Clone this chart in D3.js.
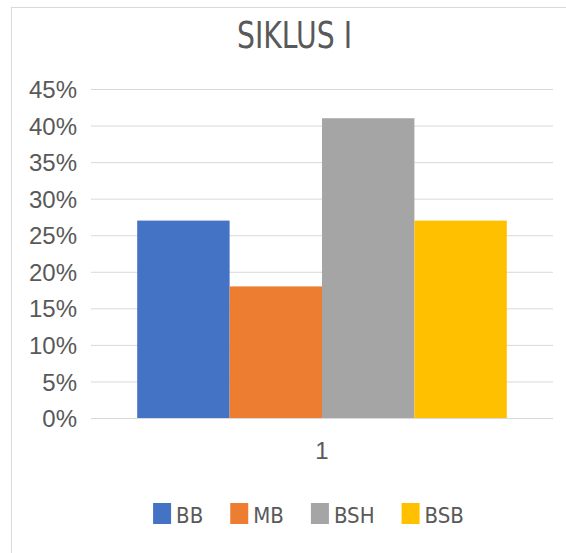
<!DOCTYPE html>
<html>
<head>
<meta charset="utf-8">
<script src="https://cdn.jsdelivr.net/npm/d3@7"></script>
<style>
  body { margin: 0; background: #fff; }
  svg { display: block; font-family: "Liberation Sans Narrow", "DejaVu Sans Condensed", "Arial Narrow", sans-serif; }
</style>
</head>
<body>
<div id="chart"></div>
<script>
// data
var categories = ["1"];
var seriesNames = ["BB", "MB", "BSH", "BSB"];
var seriesValues = [0.27, 0.18, 0.41, 0.27];
var seriesColors = ["#4472C4", "#ED7D31", "#A5A5A5", "#FFC000"];
var yTicks = [0, 0.05, 0.10, 0.15, 0.20, 0.25, 0.30, 0.35, 0.40, 0.45];

var W = 566, H = 553;
var margin = {top: 89, right: 13, bottom: 135, left: 91},
    width = W - margin.left - margin.right,
    height = H - margin.top - margin.bottom;

var textColor = "#595959";

var svg = d3.select("#chart").append("svg")
    .attr("width", W)
    .attr("height", H);

// chart area border (only top + left are visible in the crop)
svg.append("rect")
    .attr("x", 11.5).attr("y", 7.5)
    .attr("width", W + 10).attr("height", H + 10)
    .attr("fill", "none")
    .attr("stroke", "#D9D9D9");

svg.append("text")
    .attr("x", 294.5).attr("y", 48)
    .attr("text-anchor", "middle")
    .attr("fill", textColor)
    .style("font-size", "37px")
    .attr("textLength", 115)
    .attr("lengthAdjust", "spacingAndGlyphs")
    .text("SIKLUS I");

var g = svg.append("g")
    .attr("transform", "translate(" + margin.left + "," + margin.top + ")");

var x0 = d3.scaleBand()
    .domain(categories)
    .range([0, width]);

var x1 = d3.scaleBand()
    .domain(seriesNames)
    .range([0, x0.bandwidth()])
    .paddingOuter(0.5)
    .paddingInner(0);

var y = d3.scaleLinear()
    .domain([0, 0.45])
    .range([height, 0]);

var yAxis = d3.axisLeft(y)
    .tickValues(yTicks)
    .tickSize(-width)
    .tickPadding(14)
    .tickFormat(d3.format(".0%"));

var yg = g.append("g")
    .attr("class", "y axis")
    .call(yAxis);
yg.select(".domain").remove();
yg.selectAll("line").attr("stroke", "#D9D9D9");
yg.selectAll("text")
    .attr("fill", textColor)
    .attr("dy", "0.36em")
    .style("font-size", "24px");

var groups = g.selectAll("g.cat")
    .data(categories)
    .enter().append("g")
    .attr("class", "cat")
    .attr("transform", function(d) { return "translate(" + x0(d) + ",0)"; });

groups.selectAll("rect")
    .data(seriesNames.map(function(n, i) { return {name: n, value: seriesValues[i], color: seriesColors[i]}; }))
    .enter().append("rect")
    .attr("x", function(d) { return x1(d.name); })
    .attr("y", function(d) { return y(d.value); })
    .attr("width", x1.bandwidth())
    .attr("height", function(d) { return height - y(d.value); })
    .attr("fill", function(d) { return d.color; });

var xAxis = d3.axisBottom(x0)
    .tickSize(0)
    .tickPadding(24);

var xg = g.append("g")
    .attr("class", "x axis")
    .attr("transform", "translate(0," + height + ")")
    .call(xAxis);
xg.select(".domain").remove();
xg.selectAll("text")
    .attr("fill", textColor)
    .style("font-size", "24px");

// legend, centred under the chart
var legend = svg.append("g").attr("class", "legend");
var items = legend.selectAll("g")
    .data(seriesNames)
    .enter().append("g");

items.append("rect")
    .attr("y", 503)
    .attr("width", 18)
    .attr("height", 21)
    .attr("fill", function(d, i) { return seriesColors[i]; });

items.append("text")
    .attr("x", 23)
    .attr("y", 523)
    .attr("fill", textColor)
    .style("font-size", "22px")
    .text(function(d) { return d; });

var gap = 27, pos = 0, offsets = [];
items.each(function() {
    offsets.push(pos);
    pos += 23 + d3.select(this).select("text").node().getComputedTextLength() + gap;
});
var total = pos - gap;
var start = 308.5 - total / 2;
items.attr("transform", function(d, i) { return "translate(" + (start + offsets[i]) + ",0)"; });
</script>
</body>
</html>
